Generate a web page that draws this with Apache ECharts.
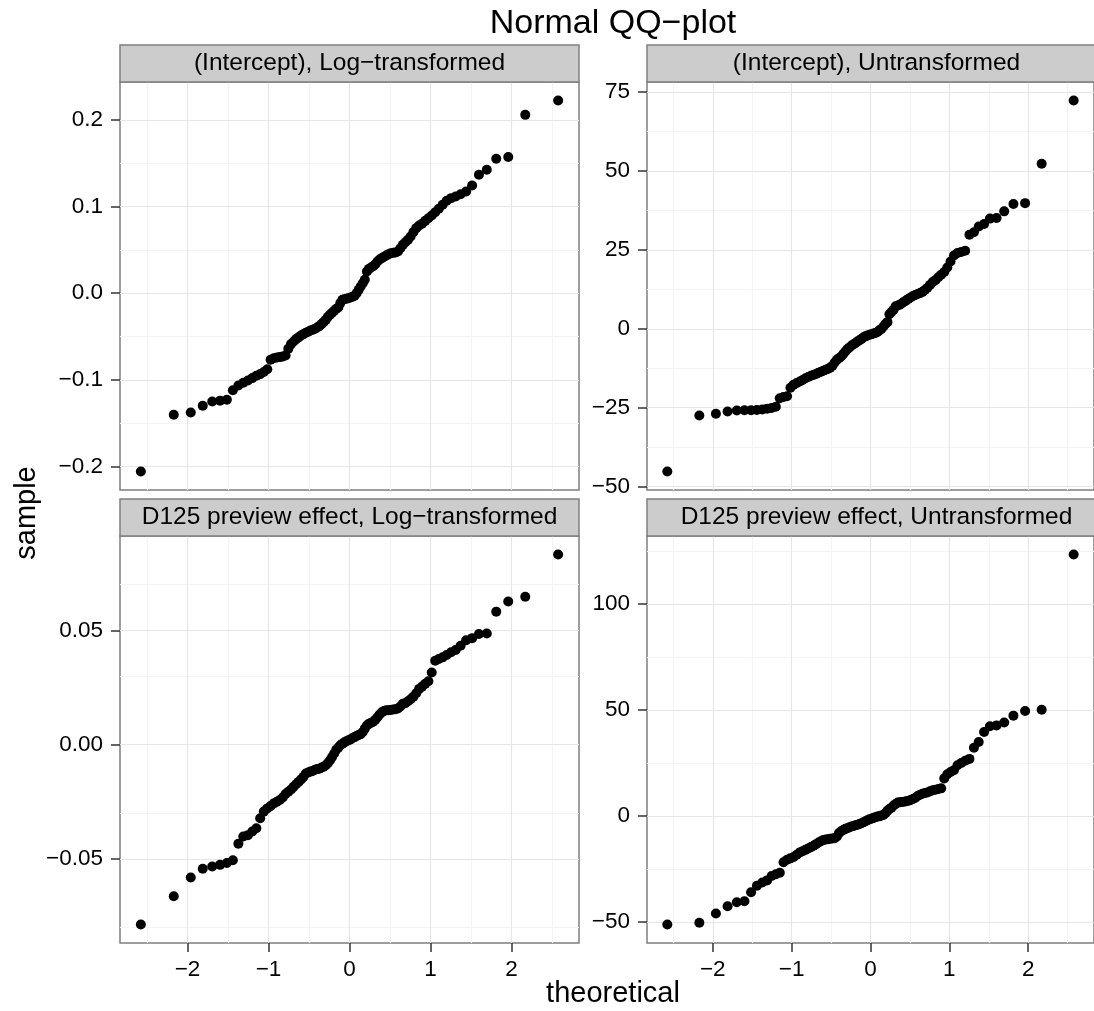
<!DOCTYPE html>
<html><head><meta charset="utf-8">
<script src="https://cdn.jsdelivr.net/npm/echarts@6/dist/echarts.min.js"></script>
<style>html,body{margin:0;padding:0;background:#fff;}#c{width:1094px;height:1011px;}</style>
</head><body><div id="c"></div>
<script>
// ---------- data ----------
const theoretical = [
-2.576,-2.170,-1.960,-1.812,-1.695,-1.598,-1.514,-1.440,-1.372,-1.311,
-1.254,-1.200,-1.150,-1.103,-1.058,-1.015,-0.974,-0.935,-0.896,-0.860,
-0.824,-0.789,-0.755,-0.722,-0.690,-0.659,-0.628,-0.598,-0.568,-0.539,
-0.510,-0.482,-0.454,-0.426,-0.399,-0.372,-0.345,-0.319,-0.292,-0.266,
-0.240,-0.215,-0.189,-0.164,-0.138,-0.113,-0.088,-0.063,-0.038,-0.013,
0.013,0.038,0.063,0.088,0.113,0.138,0.164,0.189,0.215,0.240,
0.266,0.292,0.319,0.345,0.372,0.399,0.426,0.454,0.482,0.510,
0.539,0.568,0.598,0.628,0.659,0.690,0.722,0.755,0.789,0.824,
0.860,0.896,0.935,0.974,1.015,1.058,1.103,1.150,1.200,1.254,
1.311,1.372,1.440,1.514,1.598,1.695,1.812,1.960,2.170,2.576];

const interceptLog = [
-0.2057,-0.1403,-0.1376,-0.1300,-0.1250,-0.1240,-0.1230,-0.1120,-0.1065,-0.1034,
-0.1007,-0.0980,-0.0953,-0.0934,-0.0910,-0.0877,-0.0769,-0.0750,-0.0742,-0.0738,
-0.0730,-0.0720,-0.0640,-0.0588,-0.0557,-0.0530,-0.0510,-0.0488,-0.0473,-0.0457,
-0.0446,-0.0430,-0.0423,-0.0411,-0.0396,-0.0380,-0.0357,-0.0334,-0.0308,-0.0273,
-0.0250,-0.0227,-0.0204,-0.0180,-0.0165,-0.0115,-0.0077,-0.0069,-0.0065,-0.0058,
-0.0050,-0.0042,-0.0030,0.0000,0.0038,0.0077,0.0115,0.0154,0.0250,0.0280,
0.0296,0.0310,0.0334,0.0365,0.0388,0.0404,0.0419,0.0434,0.0450,0.0461,
0.0465,0.0469,0.0480,0.0519,0.0557,0.0588,0.0615,0.0654,0.0704,0.0750,
0.0780,0.0800,0.0834,0.0865,0.0896,0.0934,0.0973,0.1020,0.1065,0.1096,
0.1115,0.1142,0.1173,0.1242,0.1365,0.1423,0.1550,0.1570,0.2057,0.2222];

const interceptRaw = [
-45.2,-27.5,-26.9,-26.2,-25.9,-25.8,-25.8,-25.7,-25.6,-25.3,
-25.1,-24.7,-22.0,-21.6,-21.4,-18.7,-17.7,-17.2,-16.7,-16.2,
-15.7,-15.3,-14.9,-14.6,-14.3,-13.9,-13.6,-13.3,-13.0,-12.7,
-12.3,-11.7,-10.7,-9.8,-9.3,-8.8,-8.0,-7.2,-6.4,-5.9,
-5.3,-4.9,-4.5,-4.0,-3.6,-3.2,-2.7,-2.4,-2.1,-1.9,
-1.7,-1.5,-1.3,-1.0,-0.5,-0.1,0.7,1.5,2.1,4.6,
5.3,6.0,7.1,7.4,7.6,8.1,8.6,9.0,9.5,9.9,
10.4,10.7,11.0,11.3,11.7,12.3,13.0,13.9,14.8,15.4,
16.3,17.1,18.0,19.4,21.3,23.2,24.0,24.3,24.7,29.8,
30.6,32.4,33.2,34.9,35.1,37.2,39.5,39.8,52.3,72.3];

const previewLog = [
-0.0787,-0.0663,-0.0581,-0.0543,-0.0533,-0.0526,-0.0518,-0.0506,-0.0434,-0.0402,
-0.0396,-0.0380,-0.0366,-0.0322,-0.0293,-0.0279,-0.0269,-0.0257,-0.0250,-0.0242,
-0.0231,-0.0216,-0.0206,-0.0196,-0.0184,-0.0173,-0.0163,-0.0152,-0.0141,-0.0126,
-0.0122,-0.0118,-0.0115,-0.0110,-0.0107,-0.0105,-0.0100,-0.0097,-0.0090,-0.0080,
-0.0068,-0.0054,-0.0039,-0.0022,-0.0013,-0.0003,0.0004,0.0010,0.0015,0.0019,
0.0023,0.0029,0.0033,0.0038,0.0042,0.0046,0.0055,0.0070,0.0084,0.0091,
0.0096,0.0100,0.0109,0.0120,0.0132,0.0142,0.0147,0.0150,0.0151,0.0152,
0.0154,0.0155,0.0158,0.0167,0.0179,0.0181,0.0190,0.0199,0.0210,0.0225,
0.0244,0.0254,0.0266,0.0277,0.0316,0.0367,0.0375,0.0382,0.0392,0.0404,
0.0414,0.0433,0.0457,0.0466,0.0484,0.0486,0.0582,0.0626,0.0647,0.0832];

const previewRaw = [
-51.2,-50.4,-46.0,-42.6,-40.7,-40.2,-36.0,-32.9,-31.4,-30.4,
-28.3,-27.5,-26.8,-21.8,-20.7,-20.0,-19.4,-18.3,-17.2,-16.6,
-16.0,-15.3,-14.7,-14.1,-13.3,-12.5,-11.9,-11.4,-11.1,-11.0,
-10.8,-10.6,-10.5,-9.7,-8.1,-7.2,-6.6,-6.1,-5.8,-5.3,
-5.0,-4.7,-4.4,-4.1,-3.8,-3.4,-3.0,-2.5,-2.0,-1.6,
-1.3,-0.9,-0.6,-0.3,-0.2,0.2,0.5,1.3,2.5,3.3,
3.9,4.9,5.6,6.3,6.4,6.6,6.7,6.9,7.2,7.5,
8.0,8.6,9.4,10.0,10.5,10.8,11.1,11.6,12.1,12.4,
12.7,13.0,17.7,19.7,20.7,21.6,23.9,25.0,26.0,26.9,
32.2,34.9,39.6,42.3,42.7,44.1,47.3,49.5,50.1,123.3];

const panelTitles = [
  '(Intercept), Log\u2212transformed',
  '(Intercept), Untransformed',
  'D125 preview effect, Log\u2212transformed',
  'D125 preview effect, Untransformed'];

const xTicks = [-2, -1, 0, 1, 2];
const xTickLabels = ['\u22122', '\u22121', '0', '1', '2'];

const yTicksTL = [-0.2, -0.1, 0, 0.1, 0.2];
const yLabelsTL = ['\u22120.2', '\u22120.1', '0.0', '0.1', '0.2'];
const yTicksTR = [-50, -25, 0, 25, 50, 75];
const yLabelsTR = ['\u221250', '\u221225', '0', '25', '50', '75'];
const yTicksBL = [-0.05, 0, 0.05];
const yLabelsBL = ['\u22120.05', '0.00', '0.05'];
const yTicksBR = [-50, 0, 50, 100];
const yLabelsBR = ['\u221250', '0', '50', '100'];

// ---------- layout / style ----------
const FONT = '"Liberation Sans", Arial, Helvetica, sans-serif';
const panels = [
  {left: 120, top: 82,  width: 459, height: 408, y: interceptLog, yt: yTicksTL, yl: yLabelsTL, showX: false},
  {left: 647, top: 82,  width: 459, height: 408, y: interceptRaw, yt: yTicksTR, yl: yLabelsTR, showX: false},
  {left: 120, top: 536, width: 459, height: 407, y: previewLog,   yt: yTicksBL, yl: yLabelsBL, showX: true},
  {left: 647, top: 536, width: 459, height: 407, y: previewRaw,   yt: yTicksBR, yl: yLabelsBR, showX: true}
];
const STRIP_H = 37;

function expandRange(arr) {
  const lo = Math.min.apply(null, arr), hi = Math.max.apply(null, arr);
  const pad = (hi - lo) * 0.05;
  return [lo - pad, hi + pad];
}
function minorOf(ticks, range) {
  const step = ticks[1] - ticks[0];
  const out = [];
  for (let i = -1; i < ticks.length; i++) {
    const v = ticks[0] + step * (i + 0.5);
    if (v > range[0] && v < range[1]) out.push(v);
  }
  return out;
}
function labelFor(ticks, labels) {
  return function (v) {
    for (let i = 0; i < ticks.length; i++) if (Math.abs(ticks[i] - v) < 1e-9) return labels[i];
    return '';
  };
}

const xRange = expandRange(theoretical);
const grids = [], xAxes = [], yAxes = [], series = [], graphics = [];

panels.forEach(function (p, k) {
  const yRange = expandRange(p.y);
  grids.push({left: p.left, top: p.top, width: p.width, height: p.height,
    show: true, backgroundColor: '#ffffff', borderColor: '#7f7f7f', borderWidth: 1.5, containLabel: false});
  xAxes.push({type: 'value', gridIndex: k, position: 'bottom', min: xRange[0], max: xRange[1],
    axisLine: {show: false, onZero: false}, splitLine: {show: false},
    axisTick: {show: p.showX, inside: false, customValues: xTicks, length: 9, lineStyle: {color: '#333333', width: 1.5}},
    axisLabel: {show: p.showX, customValues: xTicks, margin: 15, color: '#000000', fontSize: 22.5,
      fontFamily: FONT, formatter: labelFor(xTicks, xTickLabels)}});
  yAxes.push({type: 'value', gridIndex: k, position: 'left', min: yRange[0], max: yRange[1],
    axisLine: {show: false, onZero: false}, splitLine: {show: false},
    axisTick: {show: true, inside: false, customValues: p.yt, length: 9, lineStyle: {color: '#333333', width: 1.5}},
    axisLabel: {show: true, customValues: p.yt, margin: 17, color: '#000000', fontSize: 22.5,
      fontFamily: FONT, formatter: labelFor(p.yt, p.yl)}});

  const mk = [];
  minorOf(xTicks, xRange).forEach(function (v) { mk.push({xAxis: v, lineStyle: {color: '#f4f4f4', width: 1.2, type: 'solid'}}); });
  minorOf(p.yt, yRange).forEach(function (v) { mk.push({yAxis: v, lineStyle: {color: '#f4f4f4', width: 1.2, type: 'solid'}}); });
  xTicks.forEach(function (v) { mk.push({xAxis: v, lineStyle: {color: '#e6e6e6', width: 1.2, type: 'solid'}}); });
  p.yt.forEach(function (v) { mk.push({yAxis: v, lineStyle: {color: '#e6e6e6', width: 1.2, type: 'solid'}}); });
  series.push({type: 'line', xAxisIndex: k, yAxisIndex: k, data: [], silent: true, z: 1,
    markLine: {silent: true, z: 1, symbol: ['none', 'none'], label: {show: false}, emphasis: {disabled: true}, data: mk}});

  series.push({type: 'scatter', xAxisIndex: k, yAxisIndex: k, z: 3,
    symbol: 'circle', symbolSize: 10, itemStyle: {color: '#000000', opacity: 1},
    data: theoretical.map(function (t, i) { return [t, p.y[i]]; })});

  graphics.push({type: 'rect', z: 10,
    shape: {x: p.left, y: p.top - STRIP_H, width: p.width, height: STRIP_H},
    style: {fill: '#cccccc', stroke: '#7f7f7f', lineWidth: 1.5}});
  graphics.push({type: 'text', z: 11, x: p.left + p.width / 2, y: p.top - STRIP_H / 2,
    style: {text: panelTitles[k], fill: '#000000', font: '24.5px ' + FONT, textAlign: 'center', textVerticalAlign: 'middle'}});
});

graphics.push({type: 'text', z: 11, x: 613, y: 24,
  style: {text: 'Normal QQ\u2212plot', fill: '#000000', font: '34px ' + FONT, textAlign: 'center', textVerticalAlign: 'middle'}});
graphics.push({type: 'text', z: 11, x: 613, y: 994,
  style: {text: 'theoretical', fill: '#000000', font: '29px ' + FONT, textAlign: 'center', textVerticalAlign: 'middle'}});
graphics.push({type: 'text', z: 11, x: 27, y: 513, rotation: Math.PI / 2,
  style: {text: 'sample', fill: '#000000', font: '29px ' + FONT, textAlign: 'center', textVerticalAlign: 'middle'}});

const chart = echarts.init(document.getElementById('c'), null, {renderer: 'canvas'});
chart.setOption({
  animation: false,
  backgroundColor: '#ffffff',
  grid: grids, xAxis: xAxes, yAxis: yAxes, series: series, graphic: graphics
});
</script></body></html>
